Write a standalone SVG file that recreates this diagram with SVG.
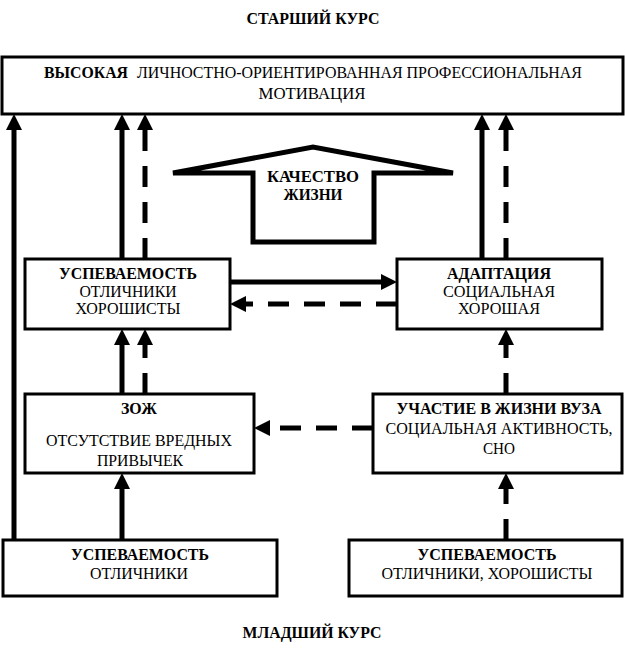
<svg xmlns="http://www.w3.org/2000/svg" width="625" height="654" viewBox="0 0 625 654">
<style>
  text { font-family: "Liberation Serif", "Times New Roman", serif; font-size: 16px; fill: #000; text-anchor: middle; }
  .b { font-weight: bold; }
  .s { text-anchor: start; }
  .box { fill: #fff; stroke: #000; stroke-width: 3; }
  .ln { fill: none; stroke: #000; stroke-width: 5; stroke-linecap: butt; }
  .dash { stroke-dasharray: 21 15; }
  .house { fill: #fff; stroke: #000; stroke-width: 5; stroke-linejoin: miter; }
</style>
<defs>
  <marker id="ah" viewBox="0 0 16 16" refX="0" refY="8" markerWidth="16" markerHeight="16" markerUnits="userSpaceOnUse" orient="auto">
    <path d="M0,0 L16,8 L0,16 z" fill="#000"/>
  </marker>
</defs>
<rect width="625" height="654" fill="#fff"/>

<text class="b" x="313" y="24" textLength="133" lengthAdjust="spacingAndGlyphs">СТАРШИЙ КУРС</text>
<text class="b" x="312" y="638" textLength="139" lengthAdjust="spacingAndGlyphs">МЛАДШИЙ КУРС</text>

<g id="connectors">
  <path class="ln" d="M14,540 V130" marker-end="url(#ah)"/>
  <path class="ln" d="M122,259 V130" marker-end="url(#ah)"/>
  <path class="ln dash" d="M145,259 V130" marker-end="url(#ah)"/>
  <path class="ln" d="M482,259 V130" marker-end="url(#ah)"/>
  <path class="ln dash" d="M506,259 V130" marker-end="url(#ah)"/>
  <path class="ln" d="M230,282 H381" marker-end="url(#ah)"/>
  <path class="ln dash" d="M397,304 H246" marker-end="url(#ah)"/>
  <path class="ln" d="M122,394 V345" marker-end="url(#ah)"/>
  <path class="ln dash" d="M145,394 V345" marker-end="url(#ah)"/>
  <path class="ln dash" d="M506,394 V345" marker-end="url(#ah)"/>
  <path class="ln dash" d="M373,428 H270" marker-end="url(#ah)"/>
  <path class="ln" d="M122,540 V489" marker-end="url(#ah)"/>
  <path class="ln dash" d="M506,540 V489" marker-end="url(#ah)"/>
</g>

<g id="top">
  <rect class="box" x="2" y="57" width="621" height="57"/>
  <text class="b s" x="44" y="78" textLength="84" lengthAdjust="spacingAndGlyphs">ВЫСОКАЯ</text>
  <text class="s" x="137" y="78" textLength="445" lengthAdjust="spacingAndGlyphs">ЛИЧНОСТНО-ОРИЕНТИРОВАННАЯ ПРОФЕССИОНАЛЬНАЯ</text>
  <text x="312" y="99" textLength="107" lengthAdjust="spacingAndGlyphs">МОТИВАЦИЯ</text>
</g>

<g id="quality">
  <polygon class="house" points="173,173 313,147 453,173 374,173 374,242 253,242 253,173"/>
  <text class="b" x="313" y="182" textLength="92" lengthAdjust="spacingAndGlyphs">КАЧЕСТВО</text>
  <text class="b" x="313" y="200" textLength="59" lengthAdjust="spacingAndGlyphs">ЖИЗНИ</text>
</g>

<g id="uspev-mid">
  <rect class="box" x="25" y="259" width="205" height="70"/>
  <text class="b" x="128" y="279" textLength="138" lengthAdjust="spacingAndGlyphs">УСПЕВАЕМОСТЬ</text>
  <text x="128" y="297" textLength="97" lengthAdjust="spacingAndGlyphs">ОТЛИЧНИКИ</text>
  <text x="128" y="314" textLength="105" lengthAdjust="spacingAndGlyphs">ХОРОШИСТЫ</text>
</g>

<g id="adapt">
  <rect class="box" x="397" y="259" width="205" height="70"/>
  <text class="b" x="499" y="279" textLength="104" lengthAdjust="spacingAndGlyphs">АДАПТАЦИЯ</text>
  <text x="499" y="297" textLength="112" lengthAdjust="spacingAndGlyphs">СОЦИАЛЬНАЯ</text>
  <text x="499" y="314" textLength="82" lengthAdjust="spacingAndGlyphs">ХОРОШАЯ</text>
</g>

<g id="zozh">
  <rect class="box" x="25" y="394" width="229" height="79"/>
  <text class="b" x="139" y="414" textLength="36" lengthAdjust="spacingAndGlyphs">ЗОЖ</text>
  <text x="139" y="446" textLength="186" lengthAdjust="spacingAndGlyphs">ОТСУТСТВИЕ ВРЕДНЫХ</text>
  <text x="140" y="466" textLength="86" lengthAdjust="spacingAndGlyphs">ПРИВЫЧЕК</text>
</g>

<g id="uchastie">
  <rect class="box" x="373" y="394" width="249" height="79"/>
  <text class="b" x="499" y="414" textLength="205" lengthAdjust="spacingAndGlyphs">УЧАСТИЕ В ЖИЗНИ ВУЗА</text>
  <text x="499" y="434" textLength="227" lengthAdjust="spacingAndGlyphs">СОЦИАЛЬНАЯ АКТИВНОСТЬ,</text>
  <text x="499" y="454" textLength="32" lengthAdjust="spacingAndGlyphs">СНО</text>
</g>

<g id="uspev-low-left">
  <rect class="box" x="3" y="540" width="274" height="56"/>
  <text class="b" x="140" y="560" textLength="138" lengthAdjust="spacingAndGlyphs">УСПЕВАЕМОСТЬ</text>
  <text x="139" y="579" textLength="98" lengthAdjust="spacingAndGlyphs">ОТЛИЧНИКИ</text>
</g>

<g id="uspev-low-right">
  <rect class="box" x="349" y="540" width="273" height="56"/>
  <text class="b" x="487" y="560" textLength="139" lengthAdjust="spacingAndGlyphs">УСПЕВАЕМОСТЬ</text>
  <text x="487" y="579" textLength="211" lengthAdjust="spacingAndGlyphs">ОТЛИЧНИКИ, ХОРОШИСТЫ</text>
</g>
</svg>
